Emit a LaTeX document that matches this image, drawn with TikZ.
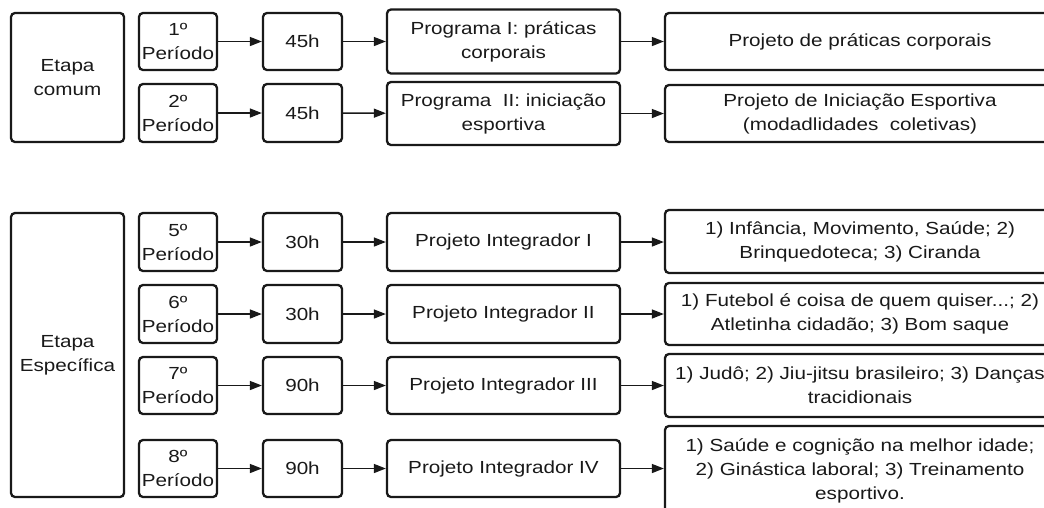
\documentclass[tikz,border=0pt]{standalone}
\usepackage{fontspec}
\setmainfont{Liberation Sans}[FakeStretch=1.18]
\usetikzlibrary{arrows.meta}
\begin{document}
\begin{tikzpicture}[x=1pt,y=-1pt,
  box/.style={draw=black!90, line width=2.3pt, rounded corners=4pt, align=center, inner sep=0pt,
    font=\fontsize{17.5}{24}\selectfont, text=black!90},
  arr/.style={-{Triangle[length=12pt,width=9pt]}, line width=1.4pt, draw=black!90}]
\clip (0,0) rectangle (1044,507);
\fill[white] (0,0) rectangle (1044,507);
% Etapa comum
\node[box, minimum width=113pt, minimum height=129pt] (ec) at (67.5,77.5) {Etapa\\comum};
\node[box, minimum width=78pt, minimum height=57pt] (p1) at (178,41.5) {1º\\Período};
\node[box, minimum width=78pt, minimum height=58pt] (p2) at (178,113) {2º\\Período};
\node[box, minimum width=79pt, minimum height=57pt] (h1) at (302.5,41.5) {45h};
\node[box, minimum width=79pt, minimum height=58pt] (h2) at (302.5,113) {45h};
\node[box, minimum width=233pt, minimum height=64pt] (g1) at (503.5,41.5) {Programa I: práticas\\corporais};
\node[box, minimum width=233pt, minimum height=63pt] (g2) at (503.5,113.5) {Programa\ \ II: iniciação\\esportiva};
\node[box, minimum width=390pt, minimum height=57pt] (r1) at (860,41.5) {Projeto de práticas corporais};
\node[box, minimum width=390pt, minimum height=57pt] (r2) at (860,113.5) {Projeto de Iniciação Esportiva\\(modadlidades\ \ coletivas)};
\draw[arr] (p1) -- (h1);
\draw[arr] (h1) -- (g1);
\draw[arr] (g1) -- (r1);
\draw[arr] (p2) -- (h2);
\draw[arr] (h2) -- (g2);
\draw[arr] (g2) -- (r2);
% Etapa especifica
\node[box, minimum width=113pt, minimum height=284pt] (ee) at (67.5,355) {Etapa\\Específica};
\node[box, minimum width=78pt, minimum height=58pt] (q5) at (178,242) {5º\\Período};
\node[box, minimum width=78pt, minimum height=58pt] (q6) at (178,314) {6º\\Período};
\node[box, minimum width=78pt, minimum height=57pt] (q7) at (178,385.5) {7º\\Período};
\node[box, minimum width=78pt, minimum height=57pt] (q8) at (178,468.5) {8º\\Período};
\node[box, minimum width=79pt, minimum height=58pt] (k5) at (302.5,242) {30h};
\node[box, minimum width=79pt, minimum height=58pt] (k6) at (302.5,314) {30h};
\node[box, minimum width=79pt, minimum height=57pt] (k7) at (302.5,385.5) {90h};
\node[box, minimum width=79pt, minimum height=57pt] (k8) at (302.5,468.5) {90h};
\node[box, minimum width=233pt, minimum height=58pt] (i5) at (503.5,242) {Projeto Integrador I};
\node[box, minimum width=233pt, minimum height=58pt] (i6) at (503.5,314) {Projeto Integrador II};
\node[box, minimum width=233pt, minimum height=57pt] (i7) at (503.5,385.5) {Projeto Integrador III};
\node[box, minimum width=233pt, minimum height=57pt] (i8) at (503.5,468.5) {Projeto Integrador IV};
\node[box, minimum width=390pt, minimum height=63pt] (s5) at (860,241.5) {1) Infância, Movimento, Saúde; 2)\\Brinquedoteca; 3) Ciranda};
\node[box, minimum width=390pt, minimum height=62pt] (s6) at (860,314) {1) Futebol é coisa de quem quiser...; 2)\\Atletinha cidadão; 3) Bom saque};
\node[box, minimum width=390pt, minimum height=63pt] (s7) at (860,385.5) {1) Judô; 2) Jiu-jitsu brasileiro; 3) Danças\\tracidionais};
\node[box, minimum width=390pt, minimum height=90pt] (s8) at (860,471) {1) Saúde e cognição na melhor idade;\\2) Ginástica laboral; 3) Treinamento\\esportivo.};
\foreach \n in {5,6,7,8} {
  \draw[arr] (q\n) -- (k\n);
  \draw[arr] (k\n) -- (i\n);
  \draw[arr] (i\n.east) -- (s\n.west |- i\n.east);
}
\end{tikzpicture}
\end{document}
